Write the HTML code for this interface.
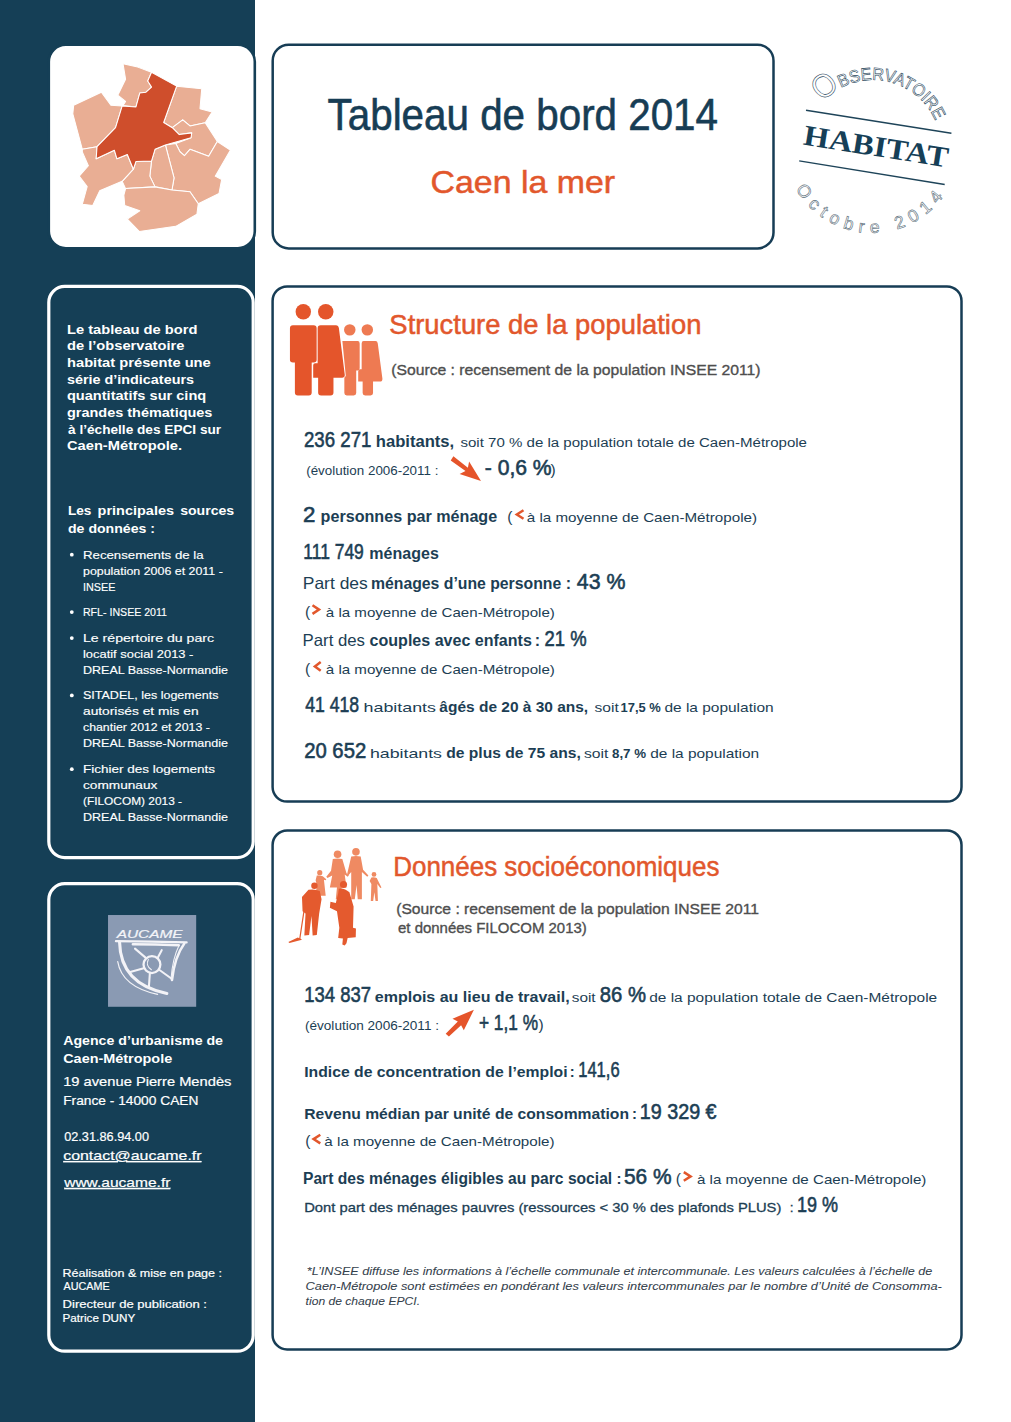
<!DOCTYPE html>
<html lang="fr"><head><meta charset="utf-8"><title>Tableau de bord 2014 - Caen la mer</title>
<style>
html,body{margin:0;padding:0;background:#fff;}
body{width:1011px;height:1422px;overflow:hidden;position:relative;}
svg{display:block;}
text{font-family:"Liberation Sans",sans-serif;}
</style></head><body>
<svg width="1011" height="1422" viewBox="0 0 1011 1422">
<rect x="0" y="0" width="255" height="1422" fill="#153f56"/>
<rect x="48.8" y="44.8" width="206" height="203.4" rx="17" fill="#fff" stroke="#153f56" stroke-width="2.6"/>
<svg x="65" y="55" width="175" height="185" viewBox="0 0 1011 1069"><polygon points="335,50 420,70 500,100 478,150 500,185 468,215 432,220 410,300 335,292 350,268 305,232 350,140" fill="#e9ae94" stroke="#fff" stroke-width="6" stroke-linejoin="round"/><polygon points="50,290 210,215 265,290 330,295 292,420 185,530 100,545 45,340" fill="#e9ae94" stroke="#fff" stroke-width="6" stroke-linejoin="round"/><polygon points="645,180 790,195 780,310 850,330 810,392 722,410 680,375 620,420 570,390" fill="#e9ae94" stroke="#fff" stroke-width="6" stroke-linejoin="round"/><polygon points="620,420 680,375 722,410 810,392 880,500 830,585 722,545 690,582 665,560 640,512 728,478 732,450 660,460" fill="#e9ae94" stroke="#fff" stroke-width="6" stroke-linejoin="round"/><polygon points="880,500 955,550 868,700 905,720 890,800 770,860 722,790 618,780 630,710 580,520 640,512 665,560 690,582 722,545 830,585" fill="#e9ae94" stroke="#fff" stroke-width="6" stroke-linejoin="round"/><polygon points="520,545 580,520 630,710 618,780 520,762 490,700 500,612" fill="#e9ae94" stroke="#fff" stroke-width="6" stroke-linejoin="round"/><polygon points="410,615 500,612 490,700 520,762 350,772 330,730 395,660" fill="#e9ae94" stroke="#fff" stroke-width="6" stroke-linejoin="round"/><polygon points="350,772 520,762 618,780 722,790 770,860 762,920 640,990 430,1020 360,948 432,900 345,870 340,810" fill="#e9ae94" stroke="#fff" stroke-width="6" stroke-linejoin="round"/><polygon points="100,545 185,530 180,600 285,550 300,600 360,575 395,660 330,730 200,785 160,870 100,862 128,760 82,700 135,640 100,560" fill="#e9ae94" stroke="#fff" stroke-width="6" stroke-linejoin="round"/><polygon points="500,100 645,180 570,390 620,420 660,460 732,450 728,478 580,520 520,545 500,612 410,615 395,660 360,575 300,600 285,550 180,600 185,530 292,420 330,295 410,300 432,220 468,215 500,185 478,150" fill="#cf4e2c" stroke="#fff" stroke-width="6" stroke-linejoin="round"/></svg>
<rect x="48.8" y="286.4" width="204.4" height="571.2" rx="16" fill="none" stroke="#fff" stroke-width="3.2"/>
<rect x="48.8" y="883.6" width="204.4" height="467.6" rx="16" fill="none" stroke="#fff" stroke-width="3.2"/>
<svg x="100" y="908" width="104" height="106" viewBox="0 0 1011 1030">
<rect x="78" y="68" width="857" height="892" fill="#8a9ab3"/>
<text x="162" y="292" textLength="640" lengthAdjust="spacingAndGlyphs" style="font-family:'Liberation Sans',sans-serif;font-size:112px;font-style:italic;fill:#f4f5f9;stroke:#f4f5f9;stroke-width:2">AUCAME</text>
<g fill="none" stroke="#f3f3f7" stroke-linecap="round" stroke-linejoin="round">
<path d="M155,322 Q500,326 842,334" stroke-width="22"/>
<path d="M320,352 Q540,352 765,362" stroke-width="26"/>
<path d="M190,330 C195,560 300,760 650,830" stroke-width="30"/>
<path d="M172,520 C200,690 330,790 560,840" stroke-width="12"/>
<path d="M820,345 C765,420 720,520 700,700" stroke-width="24"/>
<path d="M770,360 C730,440 700,560 690,690" stroke-width="10"/>
<circle cx="505" cy="550" r="82" stroke-width="22"/>
<path d="M470,500 Q440,560 500,600" stroke-width="10"/>
<path d="M340,395 L440,480 M600,410 L560,485 M285,625 L425,585 M485,630 L475,770 M575,600 L700,690" stroke-width="20"/>
</g>
</svg>
<circle cx="71.8" cy="554.7" r="1.9" fill="#fff"/>
<circle cx="71.8" cy="612.1" r="1.9" fill="#fff"/>
<circle cx="71.8" cy="638.1" r="1.9" fill="#fff"/>
<circle cx="71.8" cy="695.4" r="1.9" fill="#fff"/>
<circle cx="71.8" cy="769.2" r="1.9" fill="#fff"/>
<rect x="272.7" y="44.7" width="500.8" height="203.7" rx="16" fill="#fff" stroke="#173d55" stroke-width="2.5"/>
<rect x="272.6" y="286.4" width="688.9" height="515.2" rx="14.5" fill="#fff" stroke="#173d55" stroke-width="2.5"/>
<rect x="272.6" y="830.5" width="688.9" height="518.9" rx="14.5" fill="#fff" stroke="#173d55" stroke-width="2.5"/>
<svg x="285" y="300" width="100" height="100" viewBox="0 0 1011 1011">
<circle cx="185" cy="118" r="78" fill="#e4552b"/>
<circle cx="412" cy="118" r="78" fill="#e4552b"/>
<circle cx="655" cy="302" r="58" fill="#ee7a52"/>
<circle cx="832" cy="302" r="58" fill="#ee7a52"/>
<path d="M85,255 H290 Q320,255 320,285 V605 Q320,632 290,632 H270 V935 Q270,965 240,965 H130 Q100,965 100,935 V632 H80 Q50,632 50,605 V285 Q50,255 80,255 Z" fill="#e4552b"/>
<path d="M360,255 H515 Q540,255 545,285 L605,760 Q605,785 580,785 H490 V935 Q490,965 460,965 H365 Q335,965 335,935 V785 H285 V660 Q285,640 305,640 H330 V285 Q330,255 360,255 Z" fill="#e4552b"/>
<path d="M580,415 H735 Q755,415 755,440 V690 Q755,712 735,712 H720 V940 Q720,965 695,965 H625 Q600,965 600,940 V790 Q600,770 615,770 Z" fill="#ee7a52"/>
<path d="M795,415 H915 Q935,415 938,440 L985,795 Q985,825 960,825 H890 V940 Q890,965 865,965 H810 Q785,965 785,940 V825 H740 V720 Q740,700 760,700 H775 V440 Q775,415 795,415 Z" fill="#ee7a52"/>
</svg>
<svg x="280" y="840" width="120" height="110" viewBox="0 0 1011 927">
<g fill="#ef8a62">
<circle cx="485" cy="120" r="32"/>
<path d="M445,160 Q485,150 525,160 L560,280 L580,300 L570,310 L545,290 L560,400 L520,400 L500,500 L470,500 L480,400 L420,400 L440,300 L400,320 L390,310 L430,260 Z"/>
<circle cx="640" cy="100" r="32"/>
<path d="M600,140 Q640,130 680,140 L700,250 L745,300 L735,310 L690,270 L690,500 L655,500 L645,380 L630,500 L600,500 L600,270 L575,300 L565,290 Z"/>
<circle cx="335" cy="275" r="22"/>
<path d="M310,300 Q335,295 360,305 L390,330 L385,340 L370,335 L385,470 L300,470 L310,380 L300,340 Z"/>
<circle cx="792" cy="290" r="20"/>
<path d="M770,315 Q795,310 815,320 L855,400 L845,405 L820,370 L825,515 L805,515 L795,440 L785,515 L765,515 L770,370 L755,345 Z"/>
</g>
<g fill="#e45a2e">
<circle cx="290" cy="385" r="27"/>
<path d="M240,420 Q290,410 335,430 L350,500 L330,620 L310,800 L275,805 L265,640 L245,800 L205,805 L215,620 L190,600 L185,480 Z"/>
<path d="M212,500 L222,502 L172,830 L185,840 L80,868 L70,860 L150,822 L162,828 Z"/>
<circle cx="535" cy="375" r="30"/>
<path d="M495,410 Q540,400 585,440 L620,560 L615,740 L640,745 L638,820 L570,825 L560,870 L545,890 L525,880 L530,830 L490,825 L500,740 L480,600 L420,570 L425,520 L470,530 L490,450 Z"/>
</g>
</svg>
<polygon points="453.4,456.2 467.9,467.8 469.1,461.6 481.0,480.9 459.6,474.0 465.5,471.1 450.7,460.4" fill="#e5542a"/>
<polygon points="445.7,1033.8 448.9,1036.5 461.1,1025.2 463.8,1030.3 473.9,1009.8 452.5,1018.7 457.8,1021.4" fill="#e5542a"/>
<text x="327.60" y="130.30" textLength="390.41" lengthAdjust="spacingAndGlyphs" style="font-size:43.8px;fill:#173d55;stroke:#173d55;stroke-width:0.6px">Tableau de bord 2014</text>
<text x="430.59" y="192.90" textLength="184.42" lengthAdjust="spacingAndGlyphs" style="font-size:32px;fill:#e2572c;stroke:#e2572c;stroke-width:0.5px">Caen la mer</text>
<text x="66.98" y="333.70" textLength="130.44" lengthAdjust="spacingAndGlyphs" style="font-size:13.4px;fill:#ffffff;font-weight:bold">Le tableau de bord</text>
<text x="66.99" y="350.36" textLength="117.43" lengthAdjust="spacingAndGlyphs" style="font-size:13.4px;fill:#ffffff;font-weight:bold">de l’observatoire</text>
<text x="66.99" y="367.02" textLength="143.81" lengthAdjust="spacingAndGlyphs" style="font-size:13.4px;fill:#ffffff;font-weight:bold">habitat présente une</text>
<text x="66.99" y="383.68" textLength="127.02" lengthAdjust="spacingAndGlyphs" style="font-size:13.4px;fill:#ffffff;font-weight:bold">série d’indicateurs</text>
<text x="66.98" y="400.34" textLength="139.23" lengthAdjust="spacingAndGlyphs" style="font-size:13.4px;fill:#ffffff;font-weight:bold">quantitatifs sur cinq</text>
<text x="66.99" y="417.00" textLength="145.41" lengthAdjust="spacingAndGlyphs" style="font-size:13.4px;fill:#ffffff;font-weight:bold">grandes thématiques</text>
<text x="68.00" y="433.66" textLength="153.20" lengthAdjust="spacingAndGlyphs" style="font-size:13.4px;fill:#ffffff;font-weight:bold">à l’échelle des EPCI sur</text>
<text x="66.98" y="450.32" textLength="115.04" lengthAdjust="spacingAndGlyphs" style="font-size:13.4px;fill:#ffffff;font-weight:bold">Caen-Métropole.</text>
<text x="67.98" y="514.60" textLength="23.42" lengthAdjust="spacingAndGlyphs" style="font-size:13.4px;fill:#ffffff;font-weight:bold">Les</text>
<text x="97.58" y="514.60" textLength="76.44" lengthAdjust="spacingAndGlyphs" style="font-size:13.4px;fill:#ffffff;font-weight:bold">principales</text>
<text x="180.17" y="514.60" textLength="54.04" lengthAdjust="spacingAndGlyphs" style="font-size:13.4px;fill:#ffffff;font-weight:bold">sources</text>
<text x="67.99" y="532.90" textLength="87.05" lengthAdjust="spacingAndGlyphs" style="font-size:13.4px;fill:#ffffff;font-weight:bold">de données :</text>
<text x="82.99" y="558.70" textLength="120.61" lengthAdjust="spacingAndGlyphs" style="font-size:11.7px;fill:#ffffff;stroke:#ffffff;stroke-width:0.15px">Recensements de la</text>
<text x="82.99" y="574.80" textLength="139.81" lengthAdjust="spacingAndGlyphs" style="font-size:11.7px;fill:#ffffff;stroke:#ffffff;stroke-width:0.15px">population 2006 et 2011 -</text>
<text x="82.96" y="590.80" textLength="32.45" lengthAdjust="spacingAndGlyphs" style="font-size:11.7px;fill:#ffffff;stroke:#ffffff;stroke-width:0.15px">INSEE</text>
<text x="82.98" y="616.10" textLength="84.03" lengthAdjust="spacingAndGlyphs" style="font-size:11.7px;fill:#ffffff;stroke:#ffffff;stroke-width:0.15px">RFL- INSEE 2011</text>
<text x="82.99" y="642.10" textLength="131.01" lengthAdjust="spacingAndGlyphs" style="font-size:11.7px;fill:#ffffff;stroke:#ffffff;stroke-width:0.15px">Le répertoire du parc</text>
<text x="82.99" y="657.90" textLength="110.41" lengthAdjust="spacingAndGlyphs" style="font-size:11.7px;fill:#ffffff;stroke:#ffffff;stroke-width:0.15px">locatif social 2013 -</text>
<text x="82.99" y="674.10" textLength="145.02" lengthAdjust="spacingAndGlyphs" style="font-size:11.7px;fill:#ffffff;stroke:#ffffff;stroke-width:0.15px">DREAL Basse-Normandie</text>
<text x="82.99" y="699.40" textLength="135.41" lengthAdjust="spacingAndGlyphs" style="font-size:11.7px;fill:#ffffff;stroke:#ffffff;stroke-width:0.15px">SITADEL, les logements</text>
<text x="82.98" y="715.20" textLength="115.63" lengthAdjust="spacingAndGlyphs" style="font-size:11.7px;fill:#ffffff;stroke:#ffffff;stroke-width:0.15px">autorisés et mis en</text>
<text x="82.99" y="730.80" textLength="126.82" lengthAdjust="spacingAndGlyphs" style="font-size:11.7px;fill:#ffffff;stroke:#ffffff;stroke-width:0.15px">chantier 2012 et 2013 -</text>
<text x="82.99" y="747.00" textLength="145.02" lengthAdjust="spacingAndGlyphs" style="font-size:11.7px;fill:#ffffff;stroke:#ffffff;stroke-width:0.15px">DREAL Basse-Normandie</text>
<text x="82.99" y="773.20" textLength="132.02" lengthAdjust="spacingAndGlyphs" style="font-size:11.7px;fill:#ffffff;stroke:#ffffff;stroke-width:0.15px">Fichier des logements</text>
<text x="82.98" y="788.80" textLength="74.44" lengthAdjust="spacingAndGlyphs" style="font-size:11.7px;fill:#ffffff;stroke:#ffffff;stroke-width:0.15px">communaux</text>
<text x="82.99" y="805.00" textLength="99.01" lengthAdjust="spacingAndGlyphs" style="font-size:11.7px;fill:#ffffff;stroke:#ffffff;stroke-width:0.15px">(FILOCOM) 2013 -</text>
<text x="82.99" y="820.80" textLength="145.02" lengthAdjust="spacingAndGlyphs" style="font-size:11.7px;fill:#ffffff;stroke:#ffffff;stroke-width:0.15px">DREAL Basse-Normandie</text>
<text x="63.19" y="1044.80" textLength="159.81" lengthAdjust="spacingAndGlyphs" style="font-size:13.6px;fill:#ffffff;font-weight:bold">Agence d’urbanisme de</text>
<text x="63.19" y="1062.50" textLength="109.02" lengthAdjust="spacingAndGlyphs" style="font-size:13.6px;fill:#ffffff;font-weight:bold">Caen-Métropole</text>
<text x="63.19" y="1086.30" textLength="168.22" lengthAdjust="spacingAndGlyphs" style="font-size:13.4px;fill:#ffffff;stroke:#ffffff;stroke-width:0.2px">19 avenue Pierre Mendès</text>
<text x="63.19" y="1105.00" textLength="135.22" lengthAdjust="spacingAndGlyphs" style="font-size:13.4px;fill:#ffffff;stroke:#ffffff;stroke-width:0.2px">France - 14000 CAEN</text>
<text x="64.20" y="1140.90" textLength="84.80" lengthAdjust="spacingAndGlyphs" style="font-size:13.0px;fill:#ffffff;stroke:#ffffff;stroke-width:0.2px">02.31.86.94.00</text>
<text x="63.20" y="1160.00" textLength="138.40" lengthAdjust="spacingAndGlyphs" style="font-size:13.0px;fill:#ffffff;stroke:#ffffff;stroke-width:0.2px" text-decoration="underline">contact@aucame.fr</text>
<text x="64.20" y="1186.90" textLength="106.20" lengthAdjust="spacingAndGlyphs" style="font-size:13.0px;fill:#ffffff;stroke:#ffffff;stroke-width:0.2px" text-decoration="underline">www.aucame.fr</text>
<text x="62.59" y="1277.30" textLength="159.42" lengthAdjust="spacingAndGlyphs" style="font-size:11.2px;fill:#ffffff;stroke:#ffffff;stroke-width:0.2px">Réalisation &amp; mise en page :</text>
<text x="63.60" y="1290.10" textLength="46.00" lengthAdjust="spacingAndGlyphs" style="font-size:11.2px;fill:#ffffff;stroke:#ffffff;stroke-width:0.2px">AUCAME</text>
<text x="62.59" y="1308.30" textLength="144.41" lengthAdjust="spacingAndGlyphs" style="font-size:11.2px;fill:#ffffff;stroke:#ffffff;stroke-width:0.2px">Directeur de publication :</text>
<text x="62.59" y="1322.30" textLength="72.62" lengthAdjust="spacingAndGlyphs" style="font-size:11.2px;fill:#ffffff;stroke:#ffffff;stroke-width:0.2px">Patrice DUNY</text>
<text x="389.39" y="333.80" textLength="312.03" lengthAdjust="spacingAndGlyphs" style="font-size:27.2px;fill:#e2572c;stroke:#e2572c;stroke-width:0.5px">Structure de la population</text>
<text x="391.20" y="374.60" textLength="369.41" lengthAdjust="spacingAndGlyphs" style="font-size:15.2px;fill:#4e4e4e;stroke:#4e4e4e;stroke-width:0.35px">(Source : recensement de la population INSEE 2011)</text>
<text x="303.99" y="446.70" textLength="67.41" lengthAdjust="spacingAndGlyphs" style="font-size:22.3px;fill:#1c3e54;stroke:#1c3e54;stroke-width:0.6px">236 271</text>
<text x="375.74" y="446.70" textLength="78.50" lengthAdjust="spacingAndGlyphs" style="font-size:16px;fill:#1c3e54;font-weight:bold">habitants,</text>
<text x="460.40" y="446.70" textLength="346.60" lengthAdjust="spacingAndGlyphs" style="font-size:12.5px;fill:#1c3e54">soit 70 % de la population totale de Caen-Métropole</text>
<text x="306.20" y="475.30" textLength="132.21" lengthAdjust="spacingAndGlyphs" style="font-size:12.9px;fill:#1c3e54">(évolution 2006-2011 :</text>
<text x="484.77" y="475.30" textLength="66.86" lengthAdjust="spacingAndGlyphs" style="font-size:21.5px;fill:#1c3e54;stroke:#1c3e54;stroke-width:0.6px">- 0,6 %</text>
<text x="550.60" y="475.30" style="font-size:15.5px;fill:#1c3e54">)</text>
<text x="302.90" y="521.70" style="font-size:22.3px;fill:#1c3e54;stroke:#1c3e54;stroke-width:0.6px">2</text>
<text x="320.59" y="521.70" textLength="176.62" lengthAdjust="spacingAndGlyphs" style="font-size:16.5px;fill:#1c3e54;font-weight:bold">personnes par ménage</text>
<text x="507.25" y="521.70" style="font-size:15.5px;fill:#1c3e54">(</text>
<text x="526.79" y="521.70" textLength="230.21" lengthAdjust="spacingAndGlyphs" style="font-size:13px;fill:#1c3e54">à la moyenne de Caen-Métropole)</text>
<text x="303.35" y="559.10" textLength="60.49" lengthAdjust="spacingAndGlyphs" style="font-size:22.3px;fill:#1c3e54;stroke:#1c3e54;stroke-width:0.6px">111 749</text>
<text x="369.37" y="559.10" textLength="69.44" lengthAdjust="spacingAndGlyphs" style="font-size:16.5px;fill:#1c3e54;font-weight:bold">ménages</text>
<text x="302.76" y="588.50" textLength="65.07" lengthAdjust="spacingAndGlyphs" style="font-size:16.5px;fill:#1c3e54">Part des</text>
<text x="370.99" y="588.50" textLength="190.21" lengthAdjust="spacingAndGlyphs" style="font-size:16px;fill:#1c3e54;font-weight:bold">ménages d’une personne</text>
<text x="565.75" y="588.50" style="font-size:16px;fill:#1c3e54;font-weight:bold">:</text>
<text x="576.78" y="588.50" textLength="48.64" lengthAdjust="spacingAndGlyphs" style="font-size:22.5px;fill:#1c3e54;stroke:#1c3e54;stroke-width:0.6px">43 %</text>
<text x="305.05" y="616.80" style="font-size:15.5px;fill:#1c3e54">(</text>
<text x="325.80" y="616.80" textLength="229.01" lengthAdjust="spacingAndGlyphs" style="font-size:13px;fill:#1c3e54">à la moyenne de Caen-Métropole)</text>
<text x="302.54" y="646.00" textLength="62.48" lengthAdjust="spacingAndGlyphs" style="font-size:16.5px;fill:#1c3e54">Part des</text>
<text x="369.59" y="646.00" textLength="162.22" lengthAdjust="spacingAndGlyphs" style="font-size:16px;fill:#1c3e54;font-weight:bold">couples avec enfants</text>
<text x="534.85" y="646.00" style="font-size:16px;fill:#1c3e54;font-weight:bold">:</text>
<text x="544.58" y="646.00" textLength="42.02" lengthAdjust="spacingAndGlyphs" style="font-size:22.5px;fill:#1c3e54;stroke:#1c3e54;stroke-width:0.6px">21 %</text>
<text x="305.05" y="673.60" style="font-size:15.5px;fill:#1c3e54">(</text>
<text x="325.80" y="673.60" textLength="229.01" lengthAdjust="spacingAndGlyphs" style="font-size:13px;fill:#1c3e54">à la moyenne de Caen-Métropole)</text>
<text x="305.20" y="711.70" textLength="54.00" lengthAdjust="spacingAndGlyphs" style="font-size:22.8px;fill:#1c3e54;stroke:#1c3e54;stroke-width:0.6px">41 418</text>
<text x="363.56" y="711.70" textLength="72.47" lengthAdjust="spacingAndGlyphs" style="font-size:13.4px;fill:#1c3e54">habitants</text>
<text x="439.39" y="711.70" textLength="148.81" lengthAdjust="spacingAndGlyphs" style="font-size:14.2px;fill:#1c3e54;font-weight:bold">âgés de 20 à 30 ans,</text>
<text x="594.56" y="711.70" textLength="24.26" lengthAdjust="spacingAndGlyphs" style="font-size:12.5px;fill:#1c3e54">soit</text>
<text x="620.55" y="711.70" textLength="40.27" lengthAdjust="spacingAndGlyphs" style="font-size:13.5px;fill:#1c3e54;font-weight:bold">17,5 %</text>
<text x="664.40" y="711.70" textLength="109.21" lengthAdjust="spacingAndGlyphs" style="font-size:13px;fill:#1c3e54">de la population</text>
<text x="304.18" y="757.70" textLength="62.04" lengthAdjust="spacingAndGlyphs" style="font-size:22.3px;fill:#1c3e54;stroke:#1c3e54;stroke-width:0.6px">20 652</text>
<text x="369.96" y="757.70" textLength="72.06" lengthAdjust="spacingAndGlyphs" style="font-size:13.4px;fill:#1c3e54">habitants</text>
<text x="446.20" y="757.70" textLength="134.61" lengthAdjust="spacingAndGlyphs" style="font-size:14.2px;fill:#1c3e54;font-weight:bold">de plus de 75 ans,</text>
<text x="583.95" y="757.70" textLength="24.47" lengthAdjust="spacingAndGlyphs" style="font-size:12.5px;fill:#1c3e54">soit</text>
<text x="611.99" y="757.70" textLength="34.01" lengthAdjust="spacingAndGlyphs" style="font-size:13.5px;fill:#1c3e54;font-weight:bold">8,7 %</text>
<text x="650.20" y="757.70" textLength="109.01" lengthAdjust="spacingAndGlyphs" style="font-size:13px;fill:#1c3e54">de la population</text>
<text x="393.19" y="875.90" textLength="326.21" lengthAdjust="spacingAndGlyphs" style="font-size:27.2px;fill:#e2572c;stroke:#e2572c;stroke-width:0.5px">Données socioéconomiques</text>
<text x="396.20" y="914.40" textLength="362.80" lengthAdjust="spacingAndGlyphs" style="font-size:15.0px;fill:#4e4e4e;stroke:#4e4e4e;stroke-width:0.35px">(Source : recensement de la population INSEE 2011</text>
<text x="398.00" y="933.00" textLength="188.80" lengthAdjust="spacingAndGlyphs" style="font-size:15.0px;fill:#4e4e4e;stroke:#4e4e4e;stroke-width:0.35px">et données FILOCOM 2013)</text>
<text x="304.17" y="1001.60" textLength="66.86" lengthAdjust="spacingAndGlyphs" style="font-size:22.2px;fill:#1c3e54;stroke:#1c3e54;stroke-width:0.6px">134 837</text>
<text x="374.79" y="1001.60" textLength="194.83" lengthAdjust="spacingAndGlyphs" style="font-size:14.8px;fill:#1c3e54;font-weight:bold">emplois au lieu de travail,</text>
<text x="571.73" y="1001.60" textLength="23.89" lengthAdjust="spacingAndGlyphs" style="font-size:12.5px;fill:#1c3e54">soit</text>
<text x="599.79" y="1001.60" textLength="46.21" lengthAdjust="spacingAndGlyphs" style="font-size:22.2px;fill:#1c3e54;stroke:#1c3e54;stroke-width:0.6px">86 %</text>
<text x="649.20" y="1001.60" textLength="288.01" lengthAdjust="spacingAndGlyphs" style="font-size:12.5px;fill:#1c3e54">de la population totale de Caen-Métropole</text>
<text x="304.98" y="1029.60" textLength="134.03" lengthAdjust="spacingAndGlyphs" style="font-size:12.9px;fill:#1c3e54">(évolution 2006-2011 :</text>
<text x="479.00" y="1029.60" textLength="59.00" lengthAdjust="spacingAndGlyphs" style="font-size:22.2px;fill:#1c3e54;stroke:#1c3e54;stroke-width:0.6px">+ 1,1 %</text>
<text x="538.40" y="1029.60" style="font-size:15.5px;fill:#1c3e54">)</text>
<text x="304.19" y="1077.00" textLength="263.42" lengthAdjust="spacingAndGlyphs" style="font-size:14.8px;fill:#1c3e54;font-weight:bold">Indice de concentration de l’emploi</text>
<text x="569.85" y="1077.00" style="font-size:14.8px;fill:#1c3e54;font-weight:bold">:</text>
<text x="578.20" y="1077.00" textLength="41.40" lengthAdjust="spacingAndGlyphs" style="font-size:22.2px;fill:#1c3e54;stroke:#1c3e54;stroke-width:0.6px">141,6</text>
<text x="304.19" y="1118.90" textLength="324.81" lengthAdjust="spacingAndGlyphs" style="font-size:14.8px;fill:#1c3e54;font-weight:bold">Revenu médian par unité de consommation</text>
<text x="631.95" y="1118.90" style="font-size:14.8px;fill:#1c3e54;font-weight:bold">:</text>
<text x="639.79" y="1118.90" textLength="76.81" lengthAdjust="spacingAndGlyphs" style="font-size:22.2px;fill:#1c3e54;stroke:#1c3e54;stroke-width:0.6px">19 329 €</text>
<text x="305.25" y="1146.30" style="font-size:15.5px;fill:#1c3e54">(</text>
<text x="324.39" y="1146.30" textLength="230.22" lengthAdjust="spacingAndGlyphs" style="font-size:13px;fill:#1c3e54">à la moyenne de Caen-Métropole)</text>
<text x="302.99" y="1183.60" textLength="309.21" lengthAdjust="spacingAndGlyphs" style="font-size:15.8px;fill:#1c3e54;font-weight:bold">Part des ménages éligibles au parc social</text>
<text x="616.55" y="1183.60" style="font-size:15px;fill:#1c3e54;font-weight:bold">:</text>
<text x="623.99" y="1183.60" textLength="47.61" lengthAdjust="spacingAndGlyphs" style="font-size:22.2px;fill:#1c3e54;stroke:#1c3e54;stroke-width:0.6px">56 %</text>
<text x="675.85" y="1183.60" style="font-size:15.5px;fill:#1c3e54">(</text>
<text x="696.99" y="1183.60" textLength="229.42" lengthAdjust="spacingAndGlyphs" style="font-size:13px;fill:#1c3e54">à la moyenne de Caen-Métropole)</text>
<text x="304.20" y="1211.80" textLength="477.20" lengthAdjust="spacingAndGlyphs" style="font-size:13.5px;fill:#1c3e54;stroke:#1c3e54;stroke-width:0.3px">Dont part des ménages pauvres (ressources &lt; 30 % des plafonds PLUS)</text>
<text x="789.80" y="1211.80" style="font-size:13.5px;fill:#1c3e54;stroke:#1c3e54;stroke-width:0.3px">:</text>
<text x="796.96" y="1211.80" textLength="41.06" lengthAdjust="spacingAndGlyphs" style="font-size:22.2px;fill:#1c3e54;stroke:#1c3e54;stroke-width:0.6px">19 %</text>
<text x="306.80" y="1274.60" textLength="625.60" lengthAdjust="spacingAndGlyphs" style="font-size:10.5px;fill:#34414c;font-style:italic;stroke:#34414c;stroke-width:0.05px">*L’INSEE diffuse les informations à l’échelle communale et intercommunale. Les valeurs calculées à l’échelle de</text>
<text x="305.60" y="1289.80" textLength="636.20" lengthAdjust="spacingAndGlyphs" style="font-size:10.5px;fill:#34414c;font-style:italic;stroke:#34414c;stroke-width:0.05px">Caen-Métropole sont estimées en pondérant les valeurs intercommunales par le nombre d’Unité de Consomma-</text>
<text x="305.60" y="1304.50" textLength="114.41" lengthAdjust="spacingAndGlyphs" style="font-size:10.5px;fill:#34414c;font-style:italic;stroke:#34414c;stroke-width:0.05px">tion de chaque EPCI.</text>
<polyline points="523.5,510.2 516.8,514.5 523.5,518.8" fill="none" stroke="#e2572c" stroke-width="2.5" stroke-linejoin="miter"/>
<polyline points="312.5,605.3 319.0,609.6 312.5,613.9" fill="none" stroke="#e2572c" stroke-width="2.5" stroke-linejoin="miter"/>
<polyline points="320.7,662.1 314.9,666.4 320.7,670.7" fill="none" stroke="#e2572c" stroke-width="2.5" stroke-linejoin="miter"/>
<polyline points="320.3,1134.8 313.6,1139.1 320.3,1143.4" fill="none" stroke="#e2572c" stroke-width="2.5" stroke-linejoin="miter"/>
<polyline points="683.8,1172.1 690.6,1176.4 683.8,1180.7" fill="none" stroke="#e2572c" stroke-width="2.5" stroke-linejoin="miter"/>
<defs>
<path id="arcTop" d="M822.47,102.50 A68,68 0 0 1 935.12,120.34"/>
<path id="arcBot" d="M795.79,189.00 A88,88 0 0 0 943.19,196.73"/>
</defs>
<text style="font-family:'Liberation Sans',sans-serif;fill:#fff;stroke:#1e4459;stroke-width:0.6px"><textPath href="#arcTop" textLength="135.3" lengthAdjust="spacingAndGlyphs"><tspan style="font-size:33px">O</tspan><tspan style="font-size:17.5px">BSERVATOIRE</tspan></textPath></text>
<text style="font-family:'Liberation Sans',sans-serif;font-size:17.5px;fill:#fff;stroke:#5a6e7a;stroke-width:0.6px"><textPath href="#arcBot" textLength="175.1" lengthAdjust="spacing">Octobre 2014</textPath></text>
<line x1="806" y1="110.2" x2="951.4" y2="133.2" stroke="#1e4459" stroke-width="1.4"/>
<line x1="799.2" y1="160.9" x2="944.7" y2="184.5" stroke="#1e4459" stroke-width="1.4"/>
<text transform="translate(802.5,144.5) rotate(9)" x="0" y="0" textLength="146" lengthAdjust="spacingAndGlyphs" style="font-family:'Liberation Serif',serif;font-weight:bold;font-size:29px;fill:#163f57">HABITAT</text>

</svg>
</body></html>
